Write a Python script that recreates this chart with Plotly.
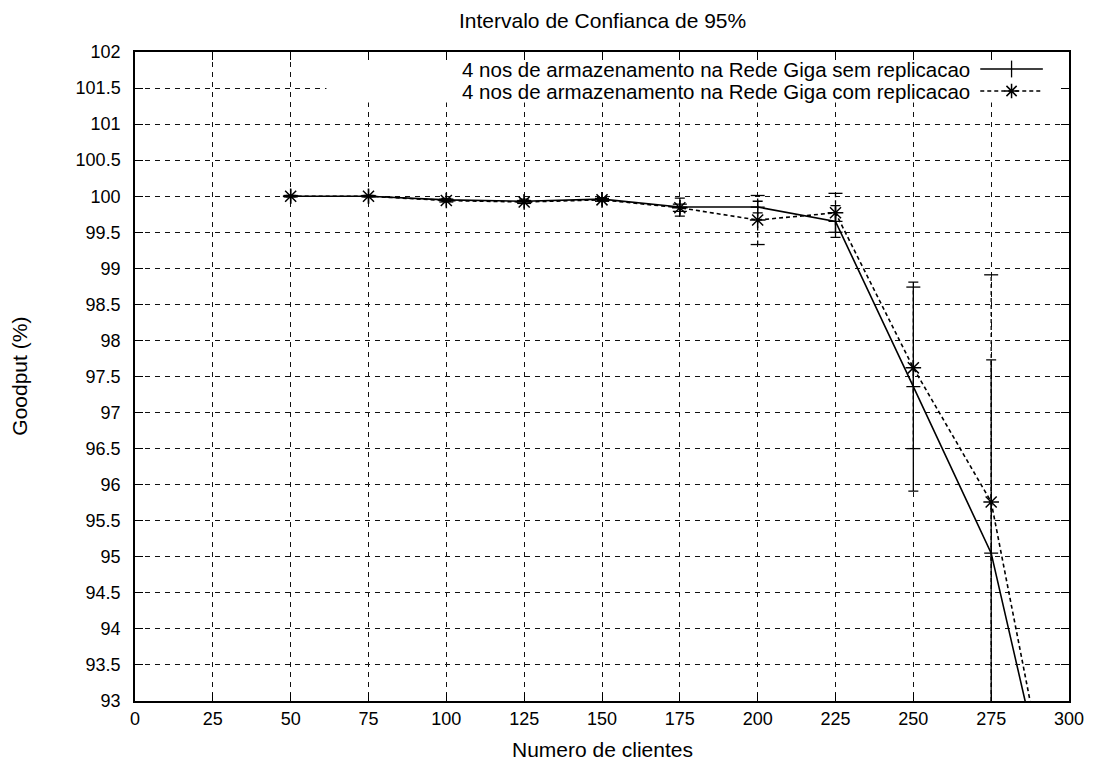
import plotly.graph_objects as go

# ---------------- data ----------------
clients = [50, 75, 100, 125, 150, 175, 200, 225, 250, 275, 300]
sem_replicacao = [100.0, 100.0, 99.95, 99.93, 99.96, 99.85, 99.85, 99.65, 97.36, 95.05, 90.35]
sem_erro = [0.01, 0.01, 0.02, 0.03, 0.02, 0.125, 0.08, 0.22, 1.45, 2.68, 2.0]
com_replicacao = [100.0, 100.0, 99.94, 99.92, 99.95, 99.84, 99.67, 99.77, 97.62, 95.76, 90.24]
com_erro = [0.01, 0.01, 0.02, 0.02, 0.02, 0.05, 0.34, 0.27, 1.12, 3.15, 2.0]

serie_sem = "4 nos de armazenamento na Rede Giga sem replicacao"
serie_com = "4 nos de armazenamento na Rede Giga com replicacao"
titulo = "Intervalo de Confianca de 95%"
x_titulo = "Numero de clientes"
y_titulo = "Goodput (%)"

FONT = "Liberation Sans"
FS_TEXT = 21
FS_KEY = 20.5
FS_TICK = 18
BLACK = "#000000"

fig = go.Figure()

# dashed error bars for "com replicacao" series (built from data)
ex, ey = [], []
for x, y, e in zip(clients, com_replicacao, com_erro):
    ex += [x, x, None]
    ey += [y - e, y + e, None]
fig.add_trace(go.Scatter(x=ex, y=ey, mode="lines",
                         line=dict(color=BLACK, width=1.3, dash="4px,3px"),
                         showlegend=False, hoverinfo="skip"))
fig.add_trace(go.Scatter(x=clients + clients,
                         y=[y - e for y, e in zip(com_replicacao, com_erro)] +
                           [y + e for y, e in zip(com_replicacao, com_erro)],
                         mode="markers",
                         marker=dict(symbol="line-ew", size=10,
                                     line=dict(color=BLACK, width=1.3)),
                         showlegend=False, hoverinfo="skip"))

# com replicacao line
fig.add_trace(go.Scatter(x=clients, y=com_replicacao, mode="lines+markers",
                         name=serie_com,
                         line=dict(color=BLACK, width=1.6, dash="4px,3px"),
                         marker=dict(symbol="asterisk", size=13,
                                     line=dict(color=BLACK, width=1.5)),
                         showlegend=False))

# sem replicacao line with solid error bars
fig.add_trace(go.Scatter(x=clients, y=sem_replicacao, mode="lines+markers",
                         name=serie_sem,
                         line=dict(color=BLACK, width=1.6),
                         marker=dict(symbol="cross-thin", size=10,
                                     line=dict(color=BLACK, width=1.3)),
                         error_y=dict(type="data", array=sem_erro, visible=True,
                                      color=BLACK, thickness=1.3, width=5),
                         showlegend=False))

# ---------------- key (gnuplot style: text then sample) ----------------
# opaque key background (hides grid behind the key)
kx0, kx1, ky0, ky1 = 0.205, 0.997, 0.922, 0.997
fig.add_trace(go.Scatter(x=[kx0, kx1, kx1, kx0, kx0], y=[ky0, ky0, ky1, ky1, ky0],
                         mode="lines", fill="toself", fillcolor="white",
                         line=dict(width=0, color="white"),
                         xaxis="x2", yaxis="y2", showlegend=False, hoverinfo="skip"))

leg_x0, leg_x1 = 0.905, 0.972
leg_rows = [0.9738, 0.9399]
fig.add_trace(go.Scatter(x=[leg_x0, leg_x1], y=[leg_rows[0]] * 2, mode="lines",
                         line=dict(color=BLACK, width=1.6), xaxis="x2", yaxis="y2",
                         showlegend=False, hoverinfo="skip"))
fig.add_trace(go.Scatter(x=[(leg_x0 + leg_x1) / 2], y=[leg_rows[0]], mode="markers",
                         marker=dict(symbol="line-ns", size=12,
                                     line=dict(color=BLACK, width=1.3)),
                         xaxis="x2", yaxis="y2", showlegend=False, hoverinfo="skip"))
fig.add_trace(go.Scatter(x=[leg_x0, leg_x1], y=[leg_rows[1]] * 2, mode="lines",
                         line=dict(color=BLACK, width=1.6, dash="4px,3px"),
                         xaxis="x2", yaxis="y2", showlegend=False, hoverinfo="skip"))
fig.add_trace(go.Scatter(x=[(leg_x0 + leg_x1) / 2], y=[leg_rows[1]], mode="markers",
                         marker=dict(symbol="asterisk", size=12,
                                     line=dict(color=BLACK, width=1.5)),
                         xaxis="x2", yaxis="y2", showlegend=False, hoverinfo="skip"))

annotations = [
    dict(text=serie_sem, x=0.896, y=leg_rows[0], xref="paper", yref="paper",
         xanchor="right", yanchor="middle", showarrow=False,
         font=dict(family=FONT, size=FS_KEY, color=BLACK)),
    dict(text=serie_com, x=0.896, y=leg_rows[1], xref="paper", yref="paper",
         xanchor="right", yanchor="middle", showarrow=False,
         font=dict(family=FONT, size=FS_KEY, color=BLACK)),
    dict(text=titulo, x=0.5, y=1.049, xref="paper", yref="paper",
         xanchor="center", yanchor="middle", showarrow=False,
         font=dict(family=FONT, size=FS_TEXT, color=BLACK)),
    dict(text=x_titulo, x=0.5, y=-0.075, xref="paper", yref="paper",
         xanchor="center", yanchor="middle", showarrow=False,
         font=dict(family=FONT, size=FS_TEXT, color=BLACK)),
    dict(text=y_titulo, x=-0.124, y=0.5, xref="paper", yref="paper",
         xanchor="center", yanchor="middle", showarrow=False, textangle=-90,
         font=dict(family=FONT, size=FS_TEXT, color=BLACK)),
]

axis_common = dict(showline=True, linecolor=BLACK, linewidth=1.5, mirror="ticks",
                   ticks="inside", ticklen=8, tickwidth=1.2, tickcolor=BLACK,
                   showgrid=True, gridcolor="#111111", gridwidth=1, griddash="5px,5px",
                   zeroline=False,
                   tickfont=dict(family=FONT, size=FS_TICK, color=BLACK))

fig.update_layout(
    width=1099, height=765,
    margin=dict(l=135, r=30, t=52, b=64),
    paper_bgcolor="white", plot_bgcolor="white",
    xaxis=dict(range=[0, 300], dtick=25, tick0=0, ticklabelstandoff=1, **axis_common),
    yaxis=dict(range=[93, 102], dtick=0.5, tick0=93, ticklabelstandoff=9, **axis_common),
    xaxis2=dict(range=[0, 1], overlaying="x", visible=False, fixedrange=True),
    yaxis2=dict(range=[0, 1], overlaying="y", visible=False, fixedrange=True),
    annotations=annotations,
    font=dict(family=FONT, size=FS_TEXT, color=BLACK),
    showlegend=False,
)

fig.write_html("out.html")
